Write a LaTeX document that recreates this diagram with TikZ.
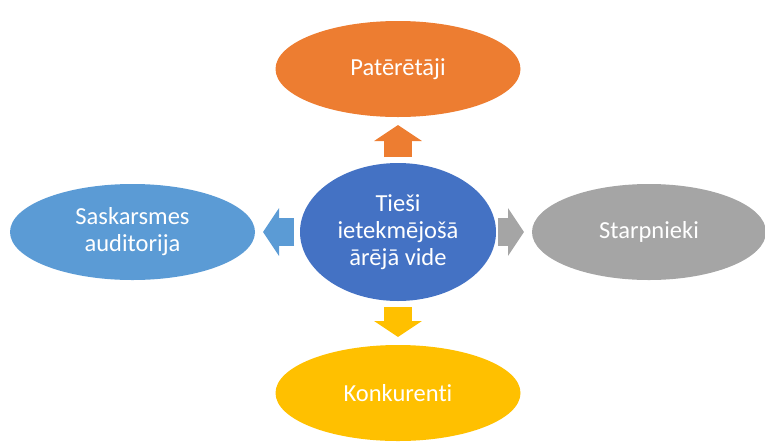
\documentclass[tikz,border=0pt]{standalone}
\usepackage{fontspec}
\setmainfont{Carlito}[Ligatures=NoCommon]
\usetikzlibrary{shapes.geometric,positioning,arrows.meta}

\definecolor{cOrange}{HTML}{ED7D31}
\definecolor{cBlue}{HTML}{4472C4}
\definecolor{cLight}{HTML}{5B9BD5}
\definecolor{cGray}{HTML}{A5A5A5}
\definecolor{cGold}{HTML}{FFC000}

\tikzstyle{el} = [ellipse, draw=none, inner sep=0pt, outer sep=0pt, minimum width=245pt, minimum height=96pt, text=white, align=center, font=\fontsize{24.5}{27}\selectfont]
\tikzstyle{fat} = [line width=28pt, -{Triangle[width=47pt,length=16pt]}, shorten <=6pt, shorten >=8pt]

\begin{document}
\begin{tikzpicture}[x=1pt,y=-1pt,node distance=46pt]
    \useasboundingbox (0,0) rectangle (765,445);
    \node[el, fill=cBlue, minimum width=196pt, minimum height=138pt] (V) at (398,232) {Tieši\\ietekmējošā\\ārējā vide};
    \node[el, fill=cOrange] (P) [above=of V] {Patērētāji};
    \node[el, fill=cGold] (K) [below=44pt of V] {Konkurenti};
    \node[el, fill=cLight] (S) [left=45pt of V] {Saskarsmes\\auditorija};
    \node[el, fill=cGray, minimum width=234pt] (N) [right=36pt of V] {Starpnieki};
    \draw [fat, cOrange] (V) -- (P);
    \draw [fat, cGold] (V) -- (K);
    \draw [fat, cLight] (V) -- (S);
    \draw [fat, cGray, shorten <=2pt] (V) -- (N);
\end{tikzpicture}
\end{document}
